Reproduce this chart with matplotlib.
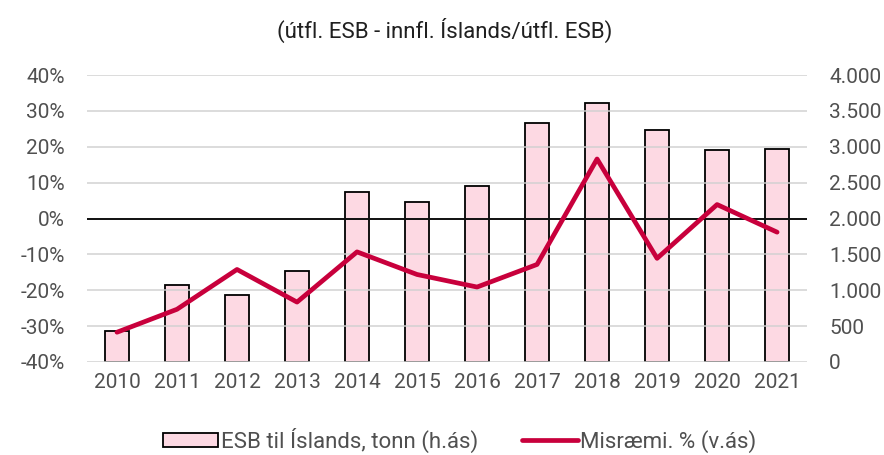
import matplotlib.pyplot as plt
from matplotlib.ticker import FuncFormatter

years = ['2010', '2011', '2012', '2013', '2014', '2015',
         '2016', '2017', '2018', '2019', '2020', '2021']
tonn = [436, 1069, 930, 1272, 2373, 2230, 2453, 3335, 3610, 3229, 2950, 2973]
misraemi = [-31.7, -25.3, -14.2, -23.3, -9.3, -15.6,
            -19.1, -12.8, 16.6, -11.1, 3.9, -3.8]

plt.rcParams['font.family'] = ['Roboto', 'DejaVu Sans']
txt_color = '#505050'
fs = 15

fig = plt.figure(figsize=(8.84, 4.55), dpi=100)
ax = fig.add_axes([0.0984, 0.2044, 0.8146, 0.6306])
ax2 = ax.twinx()

x = range(len(years))
bars = ax2.bar(x, tonn, width=0.4, color='#FDD9E3', edgecolor='black',
               linewidth=1.3, label='ESB til Íslands, tonn (h.ás)', zorder=2)
ax2.set_ylim(0, 4000)
ax2.set_yticks(range(0, 4001, 500))
ax2.yaxis.set_major_formatter(FuncFormatter(lambda v, p: f'{int(v):,}'.replace(',', '.')))

ax.set_zorder(ax2.get_zorder() + 1)
ax.patch.set_visible(False)
line, = ax.plot(x, misraemi, color='#C8003C', linewidth=3.4,
                solid_capstyle='round', label='Misræmi. % (v.ás)', zorder=4)
ax.axhline(0, color='black', linewidth=1.3, zorder=3)
ax.set_ylim(-40, 40)
ax.set_yticks(range(-40, 41, 10))
ax.yaxis.set_major_formatter(FuncFormatter(lambda v, p: f'{int(v)}%'))
ax.grid(axis='y', color='#D0D0D0', linewidth=1.3, alpha=0.8, zorder=1)
ax.set_xlim(-0.5, len(years) - 0.5)
ax.set_xticks(list(x))
ax.set_xticklabels(years)

for a in (ax, ax2):
    for s in a.spines.values():
        s.set_visible(False)
    a.tick_params(length=0, labelsize=fs, labelcolor=txt_color)
ax.tick_params(axis='y', pad=16)
ax2.tick_params(axis='y', pad=16)
ax.tick_params(axis='x', pad=8)

fig.text(0.503, 0.933, '(útfl. ESB - innfl. Íslands/útfl. ESB)',
         ha='center', va='center', fontsize=fs + 1, color='#202020')

fig.legend([bars, line], [bars.get_label(), line.get_label()],
           loc='center', bbox_to_anchor=(0.52, 0.033), ncol=2, frameon=False,
           fontsize=fs + 1, labelcolor=txt_color, handlelength=2.5,
           handleheight=0.6, handletextpad=0.1, columnspacing=2.0)

fig.savefig('out.png', dpi=100)
